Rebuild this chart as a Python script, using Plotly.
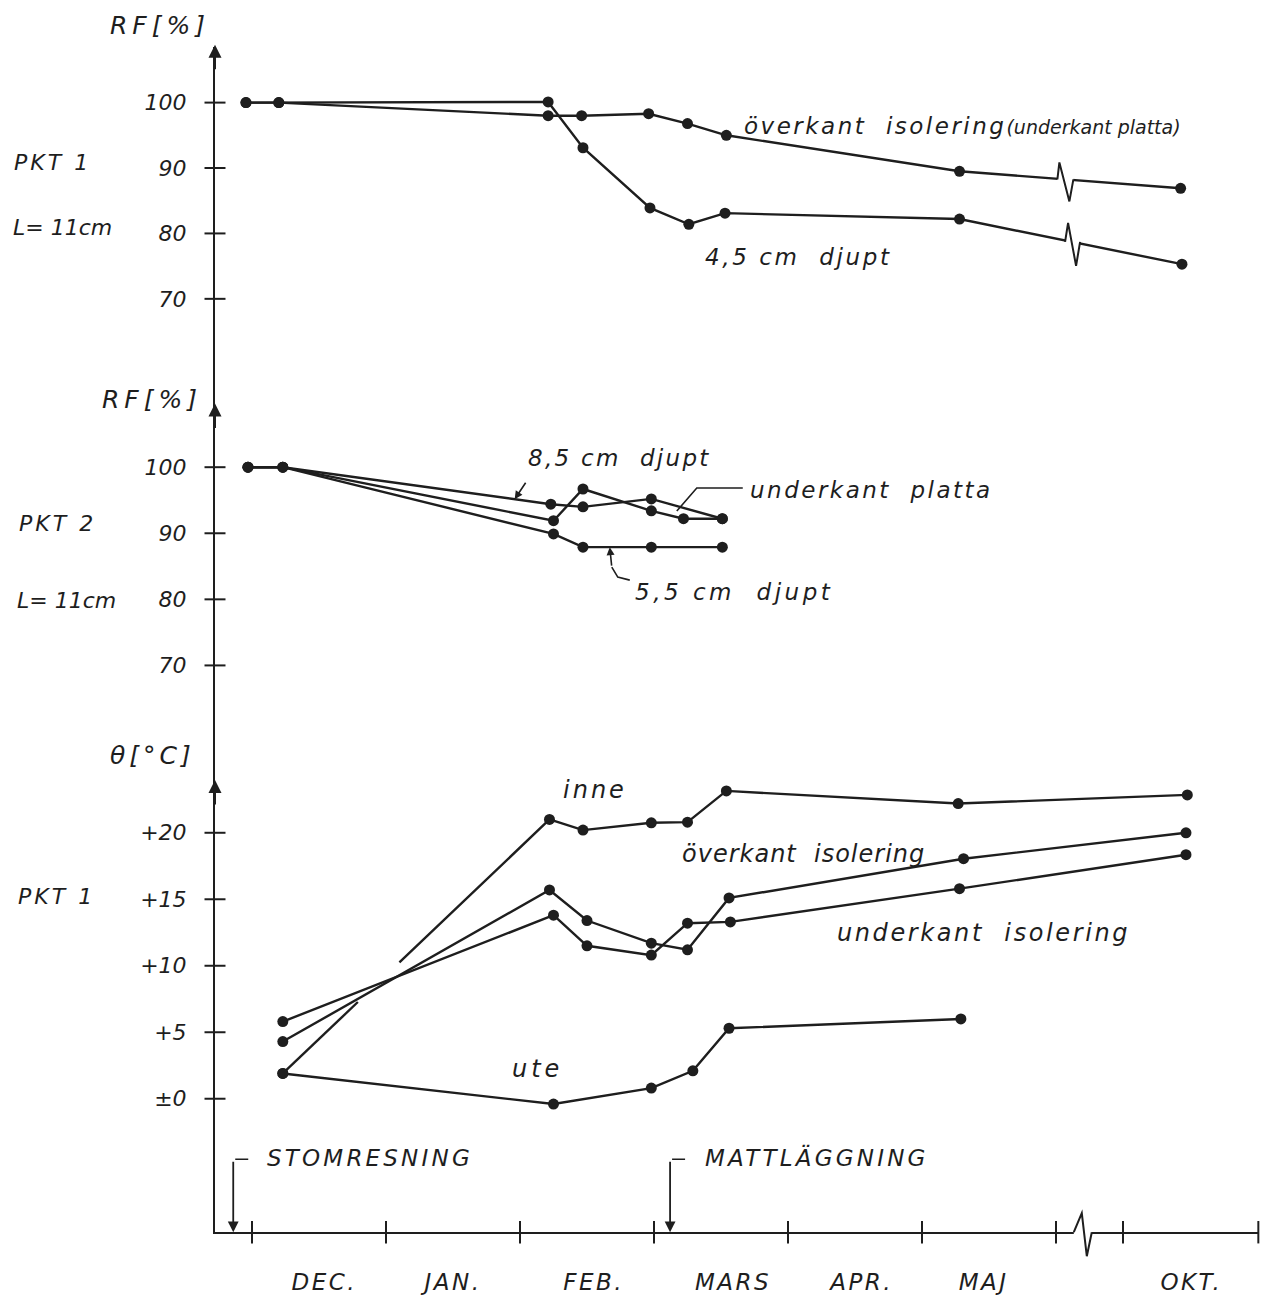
import numpy as np
import plotly.graph_objects as go

W, H = 1264, 1295
INK = "#1e1e1e"
FONT = "DejaVu Sans"

# ---------------- data ----------------
# x in month units: 0 = start of DEC, 1 = JAN, ... 6 = JUN; after the axis break OKT spans 6.5..7.5
month_names = ["DEC.", "JAN.", "FEB.", "MARS", "APR.", "MAJ", "OKT."]
month_label_pos = [0.54, 1.50, 2.55, 3.59, 4.55, 5.46, 7.01]
month_bounds = [0, 1, 2, 3, 4, 5, 6, 6.5, 7.51]

# PKT 1, RF [%]
p1_ok_x = [-0.045, 0.20, 2.21, 2.46, 2.96, 3.25, 3.54, 5.28, 6.93]
p1_ok_y = [100, 100, 98.0, 98.0, 98.3, 96.8, 95.0, 89.5, 86.9]
p1_45_x = [-0.045, 0.20, 2.21, 2.47, 2.97, 3.26, 3.53, 5.28, 6.94]
p1_45_y = [100, 100, 100.1, 93.1, 83.9, 81.4, 83.1, 82.2, 75.3]

# PKT 2, RF [%]
p2_85_x = [-0.03, 0.23, 2.23, 2.47, 2.98, 3.51]
p2_85_y = [100, 100, 94.4, 94.0, 95.2, 92.2]
p2_uk_x = [-0.03, 0.23, 2.25, 2.47, 2.98, 3.22, 3.51]
p2_uk_y = [100, 100, 91.9, 96.7, 93.4, 92.2, 92.2]
p2_55_x = [-0.03, 0.23, 2.25, 2.47, 2.98, 3.51]
p2_55_y = [100, 100, 89.9, 87.9, 87.9, 87.9]

# PKT 1, temperature [°C]
t_inne_x = [0.23, 2.22, 2.47, 2.98, 3.25, 3.54, 5.27, 6.98]
t_inne_y = [1.9, 21.0, 20.2, 20.75, 20.8, 23.15, 22.2, 22.85]
t_ok_x = [0.23, 2.22, 2.50, 2.98, 3.25, 3.56, 5.31, 6.97]
t_ok_y = [4.3, 15.7, 13.4, 11.7, 11.2, 15.1, 18.05, 20.0]
t_uk_x = [0.23, 2.25, 2.50, 2.98, 3.25, 3.57, 5.28, 6.97]
t_uk_y = [5.8, 13.8, 11.5, 10.8, 13.2, 13.3, 15.8, 18.35]
t_ute_x = [0.23, 2.25, 2.98, 3.29, 3.56, 5.29]
t_ute_y = [1.9, -0.4, 0.8, 2.1, 5.3, 6.0]

rf_ticks = [70, 80, 90, 100]
rf_labels = ["70", "80", "90", "100"]
t_ticks = [0, 5, 10, 15, 20]
t_labels = ["±0", "+5", "+10", "+15", "+20"]

# events on the time axis
event_names = ["STOMRESNING", "MATTLÄGGNING"]
event_pos = [-0.14, 3.12]

# ---------------- layout geometry ----------------
def py(p):
    return 1 - p / H

def pxp(p):
    return p / W

def axis_range(p_top, p_bot, v_a, p_a, v_b, p_b):
    k = (v_a - v_b) / (p_b - p_a)
    return [v_a - (p_bot - p_a) * k, v_a + (p_a - p_top) * k]

def spaced(t, ls):
    return f"<span style='letter-spacing:{ls}px'>{t}</span>"

AX_X = 215
AX_Y = 1237
x_range = [(AX_X - 252) / 134, (1259 - 252) / 134]
r1 = axis_range(47, 380, 100, 103, 70, 300)
r2 = axis_range(380, 752, 100, 469, 70, 668)
r3 = axis_range(752, AX_Y, 20, 836, 0, 1103)

fig = go.Figure()

def series(xs, ys, yax, gap=None):
    xs = list(xs); ys = list(ys)
    lx, ly = xs, ys
    if gap is not None:
        g0, g1 = gap
        a = [(x, y) for x, y in zip(xs, ys) if x <= g0]
        b = [(x, y) for x, y in zip(xs, ys) if x >= g1]
        lx = [p[0] for p in a] + [g0, None, g1] + [p[0] for p in b]
        ly = [p[1] for p in a] + [float(np.interp(g0, xs, ys)), None,
                                  float(np.interp(g1, xs, ys))] + [p[1] for p in b]
    fig.add_trace(go.Scatter(x=lx, y=ly, mode="lines", yaxis=yax,
                             line=dict(color=INK, width=2.4), hoverinfo="skip"))
    fig.add_trace(go.Scatter(x=xs, y=ys, mode="markers", yaxis=yax, cliponaxis=False,
                             marker=dict(color=INK, size=11), hoverinfo="skip"))

series(p1_ok_x, p1_ok_y, "y")
series(p1_45_x, p1_45_y, "y")
series(p2_85_x, p2_85_y, "y2")
series(p2_uk_x, p2_uk_y, "y2")
series(p2_55_x, p2_55_y, "y2")
series(t_ok_x, t_ok_y, "y3")
series(t_uk_x, t_uk_y, "y3")
series(t_inne_x, t_inne_y, "y3", gap=(0.79, 1.10))
series(t_ute_x, t_ute_y, "y3")

# cross ticks on the vertical axes
for yax, tv in (("y", rf_ticks), ("y2", rf_ticks), ("y3", t_ticks)):
    fig.add_trace(go.Scatter(x=[x_range[0]] * len(tv), y=tv, mode="markers", yaxis=yax,
                             cliponaxis=False, hoverinfo="skip",
                             marker=dict(symbol="line-ew", size=15,
                                         line=dict(color=INK, width=2))))
# cross ticks on the time axis
fig.add_trace(go.Scatter(x=month_bounds, y=[r3[0]] * len(month_bounds), mode="markers",
                         yaxis="y3", cliponaxis=False, hoverinfo="skip",
                         marker=dict(symbol="line-ns", size=16,
                                     line=dict(color=INK, width=2))))

shapes = []

def zigzag(xa, ya, xref, yref, pts, cover):
    cx, cy = cover
    shapes.append(dict(type="rect", xref=xref, yref=yref, xsizemode="pixel",
                       ysizemode="pixel", xanchor=xa, yanchor=ya,
                       x0=-cx, x1=cx, y0=-cy, y1=cy, fillcolor="white",
                       line=dict(width=0), layer="above"))
    path = "M " + " L ".join(f"{a},{b}" for a, b in pts)
    shapes.append(dict(type="path", xref=xref, yref=yref, xsizemode="pixel",
                       ysizemode="pixel", xanchor=xa, yanchor=ya, path=path,
                       line=dict(color=INK, width=2), layer="above"))

# breaks of the RF curves (PKT 1) and of the time axis
b_ok, b_45, b_ax = 6.07, 6.12, 6.2
zigzag(b_ok, float(np.interp(b_ok, p1_ok_x, p1_ok_y)), "x", "y",
       [(-8, 0), (-6, 17), (4, -22), (8, 0)], (8, 5))
zigzag(b_45, float(np.interp(b_45, p1_45_x, p1_45_y)), "x", "y",
       [(-7, 0), (-4, 19), (4, -24), (8, 0)], (7, 5))
zigzag(b_ax, py(AX_Y), "x", "paper", [(-9, 0), (-1, 19), (4, -24), (9, 0)], (9, 4))

def pixpath(xa, ya, xref, yref, pts, width=1.6):
    path = "M " + " L ".join(f"{a},{b}" for a, b in pts)
    shapes.append(dict(type="path", xref=xref, yref=yref, xsizemode="pixel",
                       ysizemode="pixel", xanchor=xa, yanchor=ya, path=path,
                       line=dict(color=INK, width=width), layer="above"))

annotations = []

def arrow(x, y, xref, yref, ax, ay, size=1.0, width=1.6, head=2):
    annotations.append(dict(x=x, y=y, xref=xref, yref=yref, ax=ax, ay=ay, text="",
                            showarrow=True, arrowhead=head, arrowsize=size,
                            arrowwidth=width, arrowcolor=INK, standoff=0))

def label(text, px, pyy, size=23, anchor="left", ls=2.5):
    annotations.append(dict(x=pxp(px), y=py(pyy), xref="paper", yref="paper",
                            text=spaced(text, ls) if ls else text,
                            showarrow=False, xanchor=anchor, yanchor="middle",
                            font=dict(family=FONT, size=size, color=INK, style="italic")))

# axis arrow heads
for tip in (45, 405, 783):
    arrow(pxp(AX_X), py(tip), "paper", "paper", 0, 26, size=1.3, width=2)

# leaders for PKT 2 labels
m85 = 1.96
arrow(m85, float(np.interp(m85, p2_85_x, p2_85_y)), "x", "y2", 12, -18, size=1.0)
m55 = 2.67
y55 = float(np.interp(m55, p2_55_x, p2_55_y))
arrow(m55, y55, "x", "y2", 2, 20, size=1.0)
pixpath(m55, y55, "x", "y2", [(2, -20), (8, -30), (20, -33)])
muk = 3.17
pixpath(muk, float(np.interp(muk, p2_uk_x, p2_uk_y)), "x", "y2",
        [(0, 6), (20, 29), (66, 29)])

# event arrows on time axis
for m in event_pos:
    arrow(m, r3[0], "x", "y3", 0, -72, size=1.2, width=1.8)
    pixpath(m, r3[0], "x", "y3", [(2, 73), (15, 73)])

# texts
label("RF[%]", 160, 26, 25, "center", ls=5)
label("PKT 1", 52, 163, 22, "center", ls=3)
label("L= 11cm", 62, 228, 22, "center", ls=0)
label(spaced("överkant  isolering", 2.5)
      + "<span style='font-size:19px'>(underkant platta)</span>", 742, 126, 23, ls=0)
label("4,5 cm  djupt", 703, 258, 23, ls=2.6)

label("RF[%]", 152, 401, 25, "center", ls=5)
label("PKT 2", 57, 526, 22, "center", ls=3)
label("L= 11cm", 66, 603, 22, "center", ls=0)
label("8,5 cm  djupt", 526, 460, 23, ls=2.3)
label("underkant  platta", 748, 492, 23, ls=2.5)
label("5,5 cm  djupt", 633, 594, 23, ls=3.5)

label("θ[°C]", 152, 758, 25, "center", ls=4)
label("PKT 1", 56, 900, 22, "center", ls=3)
label("inne", 561, 793, 24, ls=3)
label("överkant  isolering", 680, 857, 24, ls=1)
label("underkant  isolering", 835, 937, 24, ls=2.6)
label("ute", 510, 1073, 24, ls=4)

label(event_names[0], 265, 1162, 23, ls=3.2)
label(event_names[1], 703, 1162, 23, ls=3.2)

tickfont = dict(family=FONT, size=22, color=INK, style="italic")
yax_common = dict(showline=True, linecolor=INK, linewidth=2, showgrid=False,
                  zeroline=False, ticks="", anchor="x", tickfont=tickfont,
                  ticklabelstandoff=22, fixedrange=True)

fig.update_layout(
    width=W, height=H, autosize=False,
    margin=dict(l=0, r=0, t=0, b=0),
    paper_bgcolor="white", plot_bgcolor="white",
    showlegend=False,
    xaxis=dict(domain=[pxp(AX_X), pxp(1259)], range=x_range, anchor="y3",
               showline=True, linecolor=INK, linewidth=2, showgrid=False,
               zeroline=False, ticks="", tickvals=month_label_pos,
               ticktext=[spaced(m, 2.5) for m in month_names],
               tickfont=dict(family=FONT, size=23, color=INK, style="italic"),
               ticklabelstandoff=28, fixedrange=True),
    yaxis=dict(domain=[py(380), py(47)], range=r1, tickvals=rf_ticks,
               ticktext=rf_labels, **yax_common),
    yaxis2=dict(domain=[py(752), py(380)], range=r2, tickvals=rf_ticks,
                ticktext=rf_labels, **yax_common),
    yaxis3=dict(domain=[py(AX_Y), py(752)], range=r3, tickvals=t_ticks,
                ticktext=t_labels, **yax_common),
    shapes=shapes,
    annotations=annotations,
)

fig.write_html("out.html", config={"displayModeBar": False})
